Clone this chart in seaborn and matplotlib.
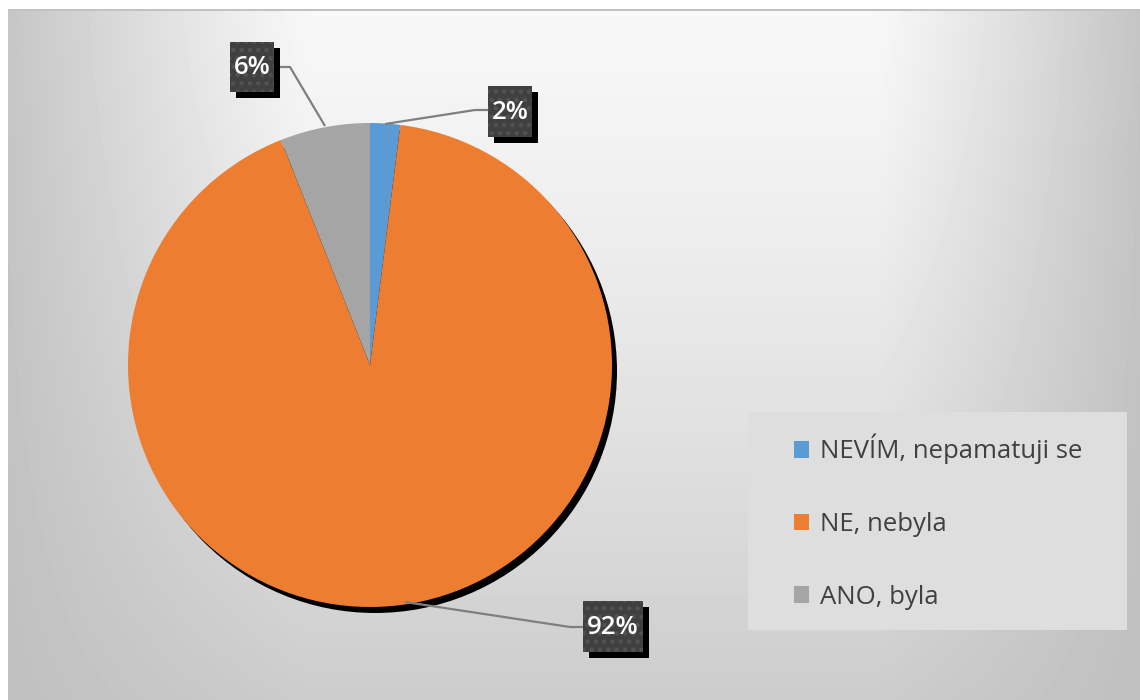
import numpy as np
import matplotlib
matplotlib.use("Agg")
import matplotlib.pyplot as plt
import seaborn as sns
from matplotlib.patches import Circle, Rectangle

# Survey answers and their shares (%)
categories = ["NEVÍM, nepamatuji se", "NE, nebyla", "ANO, byla"]
shares = [2, 92, 6]
colors = ["#5B9BD5", "#ED7D31", "#A5A5A5"]
value_labels = [f"{v}%" for v in shares]

sns.set_theme(style="white")
plt.rcParams["font.family"] = ["Open Sans", "DejaVu Sans"]

W, H = 1140, 700
fig = plt.figure(figsize=(W / 100, H / 100), dpi=100)

# ---- background: soft grey gradient, bright at the top centre ----
bg = fig.add_axes([0, 0, 1, 1])
bg.axis("off")
yy, xx = np.mgrid[0:H, 0:W].astype(float)
xn = xx / W
t = (yy / H) ** 1.3
d = np.where(xn < 0.27, (0.27 - xn) / 0.27, np.where(xn > 0.77, (xn - 0.77) / 0.23, 0.0))
top = 0.97 - 0.20 * d ** 1.1
bottom = 0.80 - 0.05 * d
img = top * (1 - t) + bottom * t
img[(yy < 9) | (xx < 8)] = 1.0
img[(yy >= 9) & (yy < 11) & (xx >= 8)] = 0.76
bg.imshow(img, cmap="gray", vmin=0, vmax=1, extent=(0, W, H, 0),
          aspect="auto", interpolation="bilinear")
bg.set_xlim(0, W)
bg.set_ylim(H, 0)

# ---- pie ----
cx, cy, R = 370, 365, 242
ax = fig.add_axes([0, 0, 1, 1])
ax.patch.set_alpha(0)
wedges, _ = ax.pie(shares, colors=colors, startangle=90, counterclock=False,
                   radius=1, wedgeprops=dict(linewidth=0))
ax.set_xlim(-cx / R, (W - cx) / R)
ax.set_ylim(-(H - cy) / R, cy / R)
ax.set_aspect("auto")
ax.axis("off")


def P(px, py):
    """pixel position -> data coordinates of the pie axes"""
    return (px - cx) / R, (cy - py) / R


# drop shadow behind the pie
ax.add_patch(Circle(P(cx + 5, cy + 6), 1.0, color="black", zorder=0.5, lw=0))

# ---- value labels with leader lines ----
boxes = [  # (x0, y0, x1, y1) in pixels, leader line points
    ((488, 86, 532, 137), [(385, 124), (475, 110), (488, 110)]),
    ((583, 601, 643, 652), [(405, 602), (570, 627), (583, 627)]),
    ((230, 42, 274, 92), [(325, 126), (290, 67), (274, 67)]),
]
plt.rcParams["hatch.linewidth"] = 2.0
for lab, ((x0, y0, x1, y1), pts) in zip(value_labels, boxes):
    lx, ly = zip(*[P(*p) for p in pts])
    ax.plot(lx, ly, color="#7f7f7f", lw=1.6, zorder=3, solid_capstyle="butt")
    sx, sy = P(x0 + 6, y1 + 6)
    ax.add_patch(Rectangle((sx, sy), (x1 - x0) / R, (y1 - y0) / R,
                           fc="black", ec="none", zorder=4))
    bx, by = P(x0, y1)
    ax.add_patch(Rectangle((bx, by), (x1 - x0) / R, (y1 - y0) / R,
                           fc="#404040", ec="#525252", lw=0, hatch="..", zorder=5))
    tx, ty = P((x0 + x1) / 2, (y0 + y1) / 2 + 1)
    ax.text(tx, ty, lab, ha="center", va="center", color="white",
            fontsize=18.5, fontweight="semibold", zorder=6)

# ---- legend ----
lx0, ly0 = P(748, 630)
ax.add_patch(Rectangle((lx0, ly0), (1127 - 748) / R, (630 - 412) / R,
                       fc="#dedede", ec="none", zorder=2))
leg = ax.legend(wedges, categories, loc="upper left",
                bbox_to_anchor=(794 / W, 1 - 434 / H), bbox_transform=fig.transFigure,
                frameon=False, fontsize=18.5, handlelength=0.6, handleheight=0.6,
                handletextpad=0.4, labelspacing=1.85, borderpad=0, borderaxespad=0)
for txt in leg.get_texts():
    txt.set_color("#404040")
leg.set_zorder(7)

fig.savefig("out.png", dpi=100)
